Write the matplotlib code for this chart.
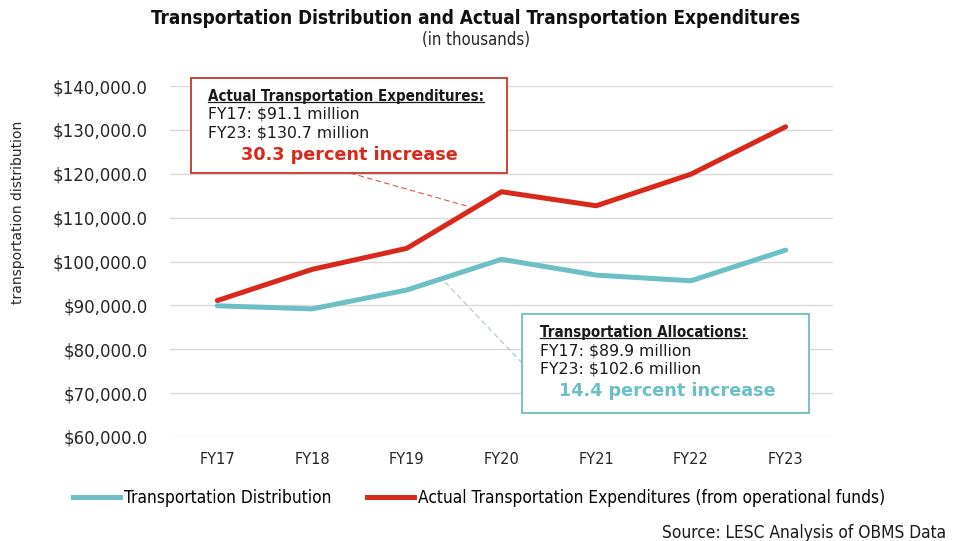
import matplotlib
matplotlib.use('Agg')
import matplotlib.pyplot as plt
from matplotlib import font_manager
from matplotlib.lines import Line2D
from matplotlib.patches import Rectangle
from matplotlib.ticker import FuncFormatter

# Данные (в тысячах долларов)
years = ['FY17', 'FY18', 'FY19', 'FY20', 'FY21', 'FY22', 'FY23']
distribution = [89900, 89200, 93500, 100500, 96900, 95600, 102600]
expenditures = [91100, 98200, 103000, 115900, 112700, 119900, 130700]

teal = '#6bbfc5'
red = '#d9291c'


def find_condensed(bold):
    # ищем узкий шрифт среди установленных
    found = []
    for f in font_manager.fontManager.ttflist:
        nm = f.name.lower()
        st = str(f.stretch).lower()
        cond = 'narrow' in nm or 'condensed' in nm or 'condensed' in st or 'narrow' in st
        w = f.weight if isinstance(f.weight, int) else 400
        if cond and f.style == 'normal' and ((w >= 600) == bold):
            found.append(f)
    if not found:
        return None
    found.sort(key=lambda f: (0 if 'liberation' in f.name.lower() else 1,
                              0 if 'semi' not in str(f.stretch) else 1))
    return font_manager.FontProperties(fname=found[0].fname)


cond_reg = find_condensed(False) or font_manager.FontProperties(family='DejaVu Sans')
cond_bold = find_condensed(True) or font_manager.FontProperties(family='DejaVu Sans', weight='bold')
body = 'DejaVu Sans'

fig = plt.figure(figsize=(9.6, 5.41), dpi=100)
ax = fig.add_axes([170 / 960, 1 - 437 / 541, 663 / 960, 351 / 541])

x = range(len(years))
ax.plot(x, distribution, color=teal, lw=3.6, solid_capstyle='round', solid_joinstyle='round', zorder=3)
ax.plot(x, expenditures, color=red, lw=3.6, solid_capstyle='round', solid_joinstyle='round', zorder=3)

ax.set_xlim(-0.5, 6.5)
ax.set_ylim(60000, 140000)
ax.set_yticks(range(60000, 140001, 10000))
ax.yaxis.set_major_formatter(FuncFormatter(lambda v, p: '${:,.1f}'.format(v)))
ax.set_xticks(list(x))
ax.set_xticklabels(years)
ax.grid(axis='y', color='#d9d9d9', lw=1.0)
ax.set_axisbelow(True)
for s in ax.spines.values():
    s.set_visible(False)
ax.tick_params(axis='y', length=0, pad=16, labelsize=12, labelcolor='#262626')
ax.tick_params(axis='x', length=0, pad=11, labelsize=10.5, labelcolor='#262626')

fig.text(18 / 960, 1 - 212 / 541, 'transportation distribution', rotation=90,
         ha='center', va='center', fontsize=10, color='#262626', family=body)


def px(xp, yp):
    return xp / 960, 1 - yp / 541


r = fig.canvas.get_renderer()


def fit(t, width_px):
    # подгоняем размер шрифта под ширину текста на исходнике
    w = t.get_window_extent(r).width
    t.set_fontsize(t.get_fontsize() * width_px / w)
    return t


# Заголовок
fit(fig.text(*px(476, 18), 'Transportation Distribution and Actual Transportation Expenditures',
             ha='center', va='center', fontproperties=cond_bold.copy(), fontsize=15,
             color='#111111'), 653)
fit(fig.text(*px(476, 40), '(in thousands)', ha='center', va='center',
             fontproperties=cond_reg.copy(), fontsize=11, color='#262626'), 108)

# Пунктирные выноски
fig.add_artist(Line2D([350 / 960, 470 / 960], [1 - 173 / 541, 1 - 207 / 541],
                      color='#d9574c', lw=0.8, ls=(0, (5, 3)), zorder=4))
fig.add_artist(Line2D([445 / 960, 522 / 960], [1 - 282 / 541, 1 - 363 / 541],
                      color='#9fc9cc', lw=0.8, ls=(0, (5, 3)), zorder=4))

# Рамки подписей
fig.add_artist(Rectangle(px(191, 173), 316 / 960, 95 / 541, facecolor='white',
                         edgecolor='#c8352a', lw=1.3, zorder=5))
fig.add_artist(Rectangle(px(522, 413), 287 / 960, 99 / 541, facecolor='white',
                         edgecolor=teal, lw=1.3, zorder=5))

heads = []
heads.append(fit(fig.text(*px(208, 96), 'Actual Transportation Expenditures:', ha='left', va='center',
                          fontproperties=cond_bold.copy(), fontsize=11, color='#1a1a1a', zorder=6), 277))
fig.text(*px(208, 114), 'FY17: $91.1 million', ha='left', va='center', fontsize=11.3,
         family=body, color='#1a1a1a', zorder=6)
fig.text(*px(208, 133), 'FY23: $130.7 million', ha='left', va='center', fontsize=11.3,
         family=body, color='#1a1a1a', zorder=6)
fig.text(*px(349, 155), '30.3 percent increase', ha='center', va='center', fontsize=12.7,
         fontweight='bold', family=body, color=red, zorder=6)

heads.append(fit(fig.text(*px(540, 332), 'Transportation Allocations:', ha='left', va='center',
                          fontproperties=cond_bold.copy(), fontsize=11, color='#1a1a1a', zorder=6), 207))
fig.text(*px(540, 351), 'FY17: $89.9 million', ha='left', va='center', fontsize=11.3,
         family=body, color='#1a1a1a', zorder=6)
fig.text(*px(540, 369), 'FY23: $102.6 million', ha='left', va='center', fontsize=11.3,
         family=body, color='#1a1a1a', zorder=6)
fig.text(*px(667, 391), '14.4 percent increase', ha='center', va='center', fontsize=12.7,
         fontweight='bold', family=body, color=teal, zorder=6)

# Подчёркивание заголовков в рамках
for t in heads:
    bb = t.get_window_extent(r).transformed(fig.transFigure.inverted())
    fig.add_artist(Line2D([bb.x0, bb.x1], [bb.y0 + 0.002, bb.y0 + 0.002],
                          color='#1a1a1a', lw=0.9, zorder=6))

# Легенда: размер шрифта по ширине длинной подписи
probe = fig.text(0, 0, 'Actual Transportation Expenditures (from operational funds)',
                 fontproperties=cond_reg.copy(), fontsize=13)
fit(probe, 466)
leg_size = probe.get_fontsize()
probe.remove()

leg_prop = cond_reg.copy()
leg_prop.set_size(leg_size)
handles = [Line2D([], [], color=teal, lw=3.6), Line2D([], [], color=red, lw=3.6)]
fig.legend(handles, ['Transportation Distribution',
                     'Actual Transportation Expenditures (from operational funds)'],
           loc='center left', bbox_to_anchor=(73 / 960, 1 - 498 / 541), ncol=2, frameon=False,
           borderpad=0, borderaxespad=0, handlelength=47 / (leg_size * 100 / 72),
           handletextpad=4 / (leg_size * 100 / 72),
           columnspacing=35 / (leg_size * 100 / 72), prop=leg_prop)

fit(fig.text(*px(946, 533), 'Source: LESC Analysis of OBMS Data', ha='right', va='center',
             fontproperties=cond_reg.copy(), fontsize=13, color='#1a1a1a'), 284)

fig.savefig('out.png', dpi=100)
